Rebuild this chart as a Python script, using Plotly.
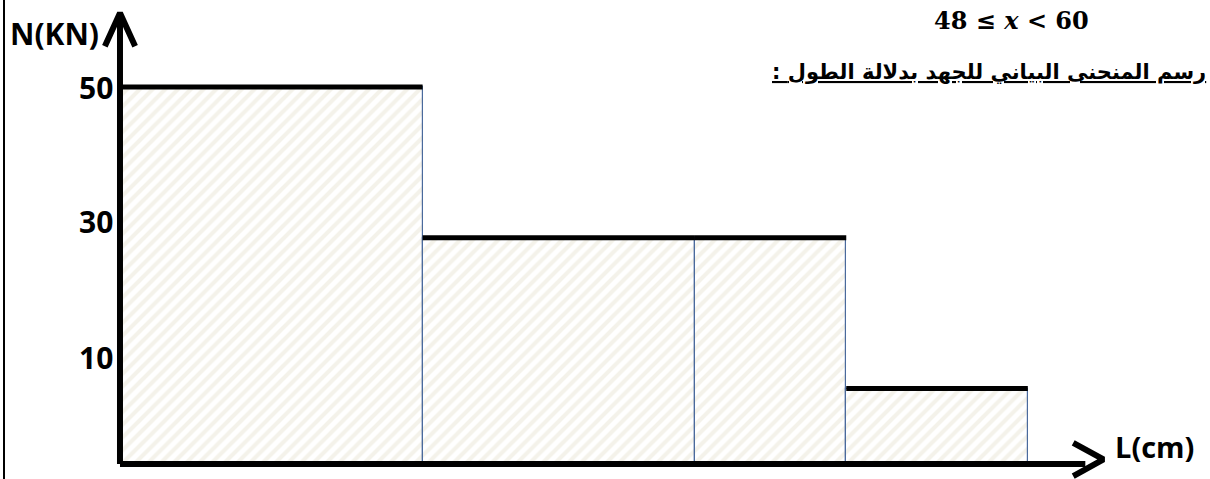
import plotly.graph_objects as go

# ---- data ----
L_edges = [0, 20, 38, 48, 60]          # segment boundaries (cm)
N_values = [50, 30, 30, 10]            # axial force per segment (kN)
tick_values = [50, 30, 10]
tick_labels = ["50", "30", "10"]
tick_yshift = [0, 16, 31]              # label offsets as in the drawing
x_axis_end = 63.8
y_axis_end = 59.8
x_arrow_tip = 65.0
y_arrow_tip = 59.8

centers = [(a + b) / 2 for a, b in zip(L_edges[:-1], L_edges[1:])]
widths = [b - a for a, b in zip(L_edges[:-1], L_edges[1:])]

fig = go.Figure()

# hatched segments
fig.add_trace(go.Bar(
    x=centers, y=N_values, width=widths, base=0,
    marker=dict(color="white",
                line=dict(color="#4a6a9c", width=1.2),
                pattern=dict(shape="/", fgcolor="#e9e6d5", bgcolor="white",
                             size=9, solidity=0.45)),
    hoverinfo="skip", showlegend=False))

# thick black tops
sx, sy = [], []
for a, b, n in zip(L_edges[:-1], L_edges[1:], N_values):
    sx += [a, b, None]
    sy += [n, n, None]
fig.add_trace(go.Scatter(x=sx, y=sy, mode="lines",
                         line=dict(color="black", width=5),
                         hoverinfo="skip", showlegend=False))

# axes with arrows
fig.add_trace(go.Scatter(
    x=[0, x_axis_end, None, 0, 0, None,
       x_arrow_tip - 2.0, x_arrow_tip, x_arrow_tip - 2.0, None,
       -1.0, 0, 1.0],
    y=[0, 0, None, 0, y_axis_end, None,
       2.8, 0.6, -1.6, None,
       y_arrow_tip - 4.4, y_arrow_tip, y_arrow_tip - 4.4],
    mode="lines", line=dict(color="black", width=6),
    hoverinfo="skip", showlegend=False))

ann = []
for v, t, s in zip(tick_values, tick_labels, tick_yshift):
    ann.append(dict(x=0, y=v, xref="x", yref="y", text="<b>%s</b>" % t,
                    showarrow=False, xanchor="right", yanchor="middle",
                    xshift=-5, yshift=s,
                    font=dict(family="Open Sans", size=30, color="black")))
ann.append(dict(x=101 / 1210, y=1 - 34 / 479, xref="paper", yref="paper",
                text="<b>N(KN)</b>", showarrow=False, xanchor="right",
                yanchor="middle",
                font=dict(family="Open Sans", size=30, color="black")))
ann.append(dict(x=1113 / 1210, y=1 - 446 / 479, xref="paper", yref="paper",
                text="<b>L(cm)</b>", showarrow=False, xanchor="left",
                yanchor="middle",
                font=dict(family="Open Sans", size=29, color="black")))
ann.append(dict(x=1012 / 1210, y=1 - 20 / 479, xref="paper", yref="paper",
                text="<b>48 ≤ <i>x</i> &lt; 60</b>", showarrow=False,
                xanchor="center", yanchor="middle",
                font=dict(family="DejaVu Serif", size=24, color="black")))
ann.append(dict(x=1208 / 1210, y=1 - 72 / 479, xref="paper", yref="paper",
                text="<b><u>: رسم المنحنى البياني للجهد بدلالة الطول</u></b>",
                showarrow=False, xanchor="right", yanchor="middle",
                font=dict(family="DejaVu Sans", size=21, color="black")))

fig.update_layout(
    width=1210, height=479, autosize=False,
    margin=dict(l=0, r=0, t=0, b=0),
    plot_bgcolor="white", paper_bgcolor="white",
    xaxis=dict(range=[-7.93, 72.04], visible=False, fixedrange=True),
    yaxis=dict(range=[-1.99, 61.54], visible=False, fixedrange=True),
    annotations=ann,
    bargap=0,
    shapes=[dict(type="line", xref="paper", yref="paper",
                 x0=4 / 1210, x1=4 / 1210, y0=0, y1=1,
                 line=dict(color="black", width=2))],
)

fig.write_html("out.html", config={"displayModeBar": False},
               post_script="document.body.style.margin='0px';")
